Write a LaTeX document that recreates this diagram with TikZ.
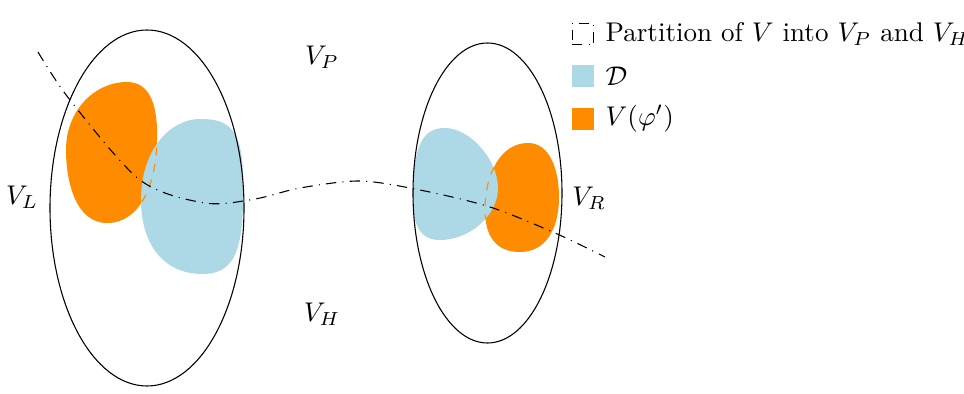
\documentclass[tikz,border=0pt]{standalone}
\usepackage{amsmath}
\usetikzlibrary{positioning}
\definecolor{dblue}{HTML}{ADD8E6}
\definecolor{phiorange}{HTML}{FF8C00}

\begin{document}
\begin{tikzpicture}[
  x=0.013cm, y=-0.013cm,
  part/.style={dash pattern=on 3.8pt off 2.3pt on \pgflinewidth off 2.3pt},
  under/.style={phiorange, dashed},
  legbox/.style={minimum width=8pt, minimum height=8pt, inner sep=0pt},
  legtext/.style={inner sep=0pt}
]
\useasboundingbox (0,0) rectangle (964,394);

% blobs
\path[save path=\orangeL] (127,82) .. controls (150,82) and (158,105) .. (157,140)
  .. controls (156,185) and (140,223) .. (107,223)
  .. controls (75,223) and (66,180) .. (66,150)
  .. controls (66,110) and (95,82) .. (127,82) -- cycle;
\path[save path=\blueL] (200,119) .. controls (225,119) and (242,125) .. (243,175)
  .. controls (244,240) and (240,274) .. (203,274)
  .. controls (160,274) and (141,240) .. (141,200)
  .. controls (141,150) and (170,119) .. (200,119) -- cycle;
\path[save path=\orangeR] (528,143) .. controls (550,143) and (559,170) .. (559,197)
  .. controls (559,230) and (545,252) .. (520,252)
  .. controls (495,252) and (485,235) .. (485,210)
  .. controls (485,175) and (500,143) .. (528,143) -- cycle;
\path[save path=\blueR] (445,128) .. controls (470,128) and (498,160) .. (498,188)
  .. controls (498,215) and (470,240) .. (440,240)
  .. controls (420,240) and (413,225) .. (413,200)
  .. controls (413,150) and (420,128) .. (445,128) -- cycle;

\fill[phiorange, use path=\orangeL];
\fill[phiorange, use path=\orangeR];
\fill[dblue, use path=\blueL];
\fill[dblue, use path=\blueR];

% orange border seen through the blue
\begin{scope}
  \clip[use path=\blueL];
  \draw[under, use path=\orangeL];
\end{scope}
\begin{scope}
  \clip[use path=\blueR];
  \draw[under, use path=\orangeR];
\end{scope}

% the two sides
\draw (147,208) ellipse [x radius=1.261cm, y radius=2.314cm];
\draw (487.5,193) ellipse [x radius=0.9685cm, y radius=1.95cm];

% partition line
\draw[part] plot[smooth] coordinates {(38,52) (70,100) (140,180) (205,203) (255,199) (300,188) (360,181) (420,190) (490,207) (555,233) (605,257)};

\node (vl) at (22,197) {$V_L$};
\node (vp) at (322,57) {$V_P$};
\node (vh) at (322,314) {$V_H$};
\node (vr) at (589,198) {$V_R$};

% legend
\node[legbox, draw, part] (kpart) at (583,34) {};
\node[legtext, right=4pt of kpart] (tpart) {Partition of $V$ into $V_P$ and $V_H$};
\node[legbox, fill=dblue] (kd) at (583,76) {};
\node[legtext, right=4pt of kd] (td) {$\mathcal{D}$};
\node[legbox, fill=phiorange] (kphi) at (583,119) {};
\node[legtext, right=4pt of kphi] (tphi) {$V(\varphi')$};
\end{tikzpicture}
\end{document}
